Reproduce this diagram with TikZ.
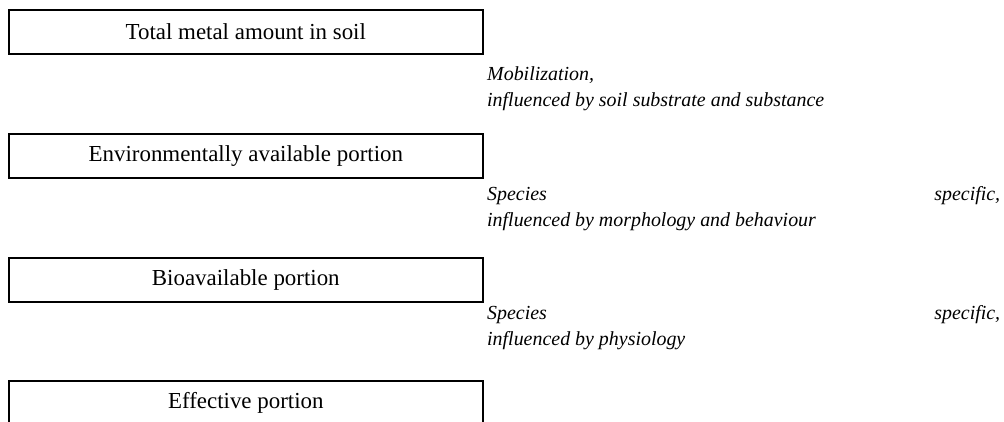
\documentclass[tikz,border=0pt]{standalone}
\usepackage{fontspec}
\setmainfont{Liberation Serif}
\begin{document}
\begin{tikzpicture}[x=1bp,y=-1bp,
  portion/.style={draw, line width=1.6bp, minimum width=474bp, minimum height=44bp,
    inner sep=0pt, anchor=north west, font=\fontsize{23}{27}\selectfont},
  note/.style={anchor=west, text width=513bp, align=flush left, inner sep=0pt,
    font=\fontsize{20}{26}\selectfont\itshape}]
\useasboundingbox (0,0) rectangle (1004,421);
\clip (0,0) rectangle (1004,421);
% the four nested soil-metal fractions
\node[portion] (total) at (8,9)   {Total metal amount in soil};
\node[portion] (env)   at (8,133) {Environmentally available portion};
\node[portion] (bio)   at (8,257) {Bioavailable portion};
\node[portion] (eff)   at (8,380) {Effective portion};
% processes between the fractions
\node[note] (mob)  at (487,89)  {Mobilization,\\influenced by soil substrate and substance};
\node[note] (spec) at (487,209) {Species\hfill specific,\\influenced by morphology and behaviour};
\node[note] (phys) at (487,328) {Species\hfill specific,\\influenced by physiology};
\end{tikzpicture}
\end{document}
